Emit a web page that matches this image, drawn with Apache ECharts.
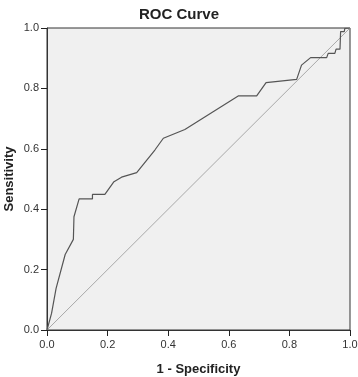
<!DOCTYPE html>
<html>
<head>
<meta charset="utf-8">
<script src="https://cdn.jsdelivr.net/npm/echarts@6/dist/echarts.min.js"></script>
<style>
  html, body { margin: 0; padding: 0; background: #fff; }
  #chart { width: 358px; height: 377px; }
</style>
</head>
<body>
<div id="chart"></div>
<script>
// ROC curve points: [1 - specificity, sensitivity]
const fpr = [0, 0.015, 0.03, 0.06, 0.087, 0.089, 0.106, 0.15, 0.15, 0.191, 0.221, 0.246, 0.296, 0.356,
  0.384, 0.455, 0.631, 0.692, 0.723, 0.824, 0.84, 0.87, 0.923, 0.928, 0.95, 0.954, 0.967, 0.969, 0.981, 0.983, 1];
const tpr = [0, 0.055, 0.138, 0.25, 0.30, 0.375, 0.434, 0.434, 0.449, 0.449, 0.491, 0.506, 0.521, 0.596,
  0.635, 0.664, 0.775, 0.775, 0.819, 0.830, 0.877, 0.902, 0.902, 0.916, 0.916, 0.930, 0.930, 0.988, 0.988, 0.999, 1];
const refLine = [[0, 0], [1, 1]];
const tickFont = 'Liberation Sans';

const chart = echarts.init(document.getElementById('chart'));

const curve = fpr.map((x, i) => [x, tpr[i]]);

const option = {
  animation: false,
  title: {
    text: 'ROC Curve',
    left: 'center',
    top: 2,
    textStyle: { fontFamily: tickFont, fontSize: 15, fontWeight: 'bold', color: '#222' },
  },
  grid: {
    left: 47,
    right: 8,
    top: 28,
    bottom: 47,
    outerBoundsMode: 'none',
    containLabel: false,
    show: true,
    backgroundColor: '#f0f0f0',
    borderColor: '#333',
    borderWidth: 1,
  },
  xAxis: {
    type: 'value',
    min: 0,
    max: 1,
    interval: 0.2,
    name: '1 - Specificity',
    nameLocation: 'middle',
    nameGap: 33,
    nameMoveOverlap: false,
    nameTextStyle: { fontFamily: tickFont, fontSize: 13, fontWeight: 'bold', color: '#222' },
    axisLine: { show: true, onZero: false, lineStyle: { color: '#333', width: 1 } },
    axisTick: { show: true, inside: false, length: 6, lineStyle: { color: '#222', width: 1 } },
    axisLabel: { fontFamily: tickFont, fontSize: 11, color: '#333', margin: 9, formatter: v => v.toFixed(1) },
    splitLine: { show: false },
  },
  yAxis: {
    type: 'value',
    min: 0,
    max: 1,
    interval: 0.2,
    name: 'Sensitivity',
    nameLocation: 'middle',
    nameGap: 31,
    nameMoveOverlap: false,
    nameTextStyle: { fontFamily: tickFont, fontSize: 13, fontWeight: 'bold', color: '#222' },
    axisLine: { show: true, onZero: false, lineStyle: { color: '#333', width: 1 } },
    axisTick: { show: true, length: 6, lineStyle: { color: '#222', width: 1 } },
    axisLabel: { fontFamily: tickFont, fontSize: 11, color: '#333', margin: 8, formatter: v => v.toFixed(1) },
    splitLine: { show: false },
  },
  series: [
    {
      type: 'line',
      data: refLine,
      symbol: 'none',
      silent: true,
      lineStyle: { color: '#a8a8a8', width: 1 },
    },
    {
      type: 'line',
      data: curve,
      symbol: 'none',
      silent: true,
      lineStyle: { color: '#555', width: 1.2 },
    },
  ],
};

chart.setOption(option);
</script>
</body>
</html>
